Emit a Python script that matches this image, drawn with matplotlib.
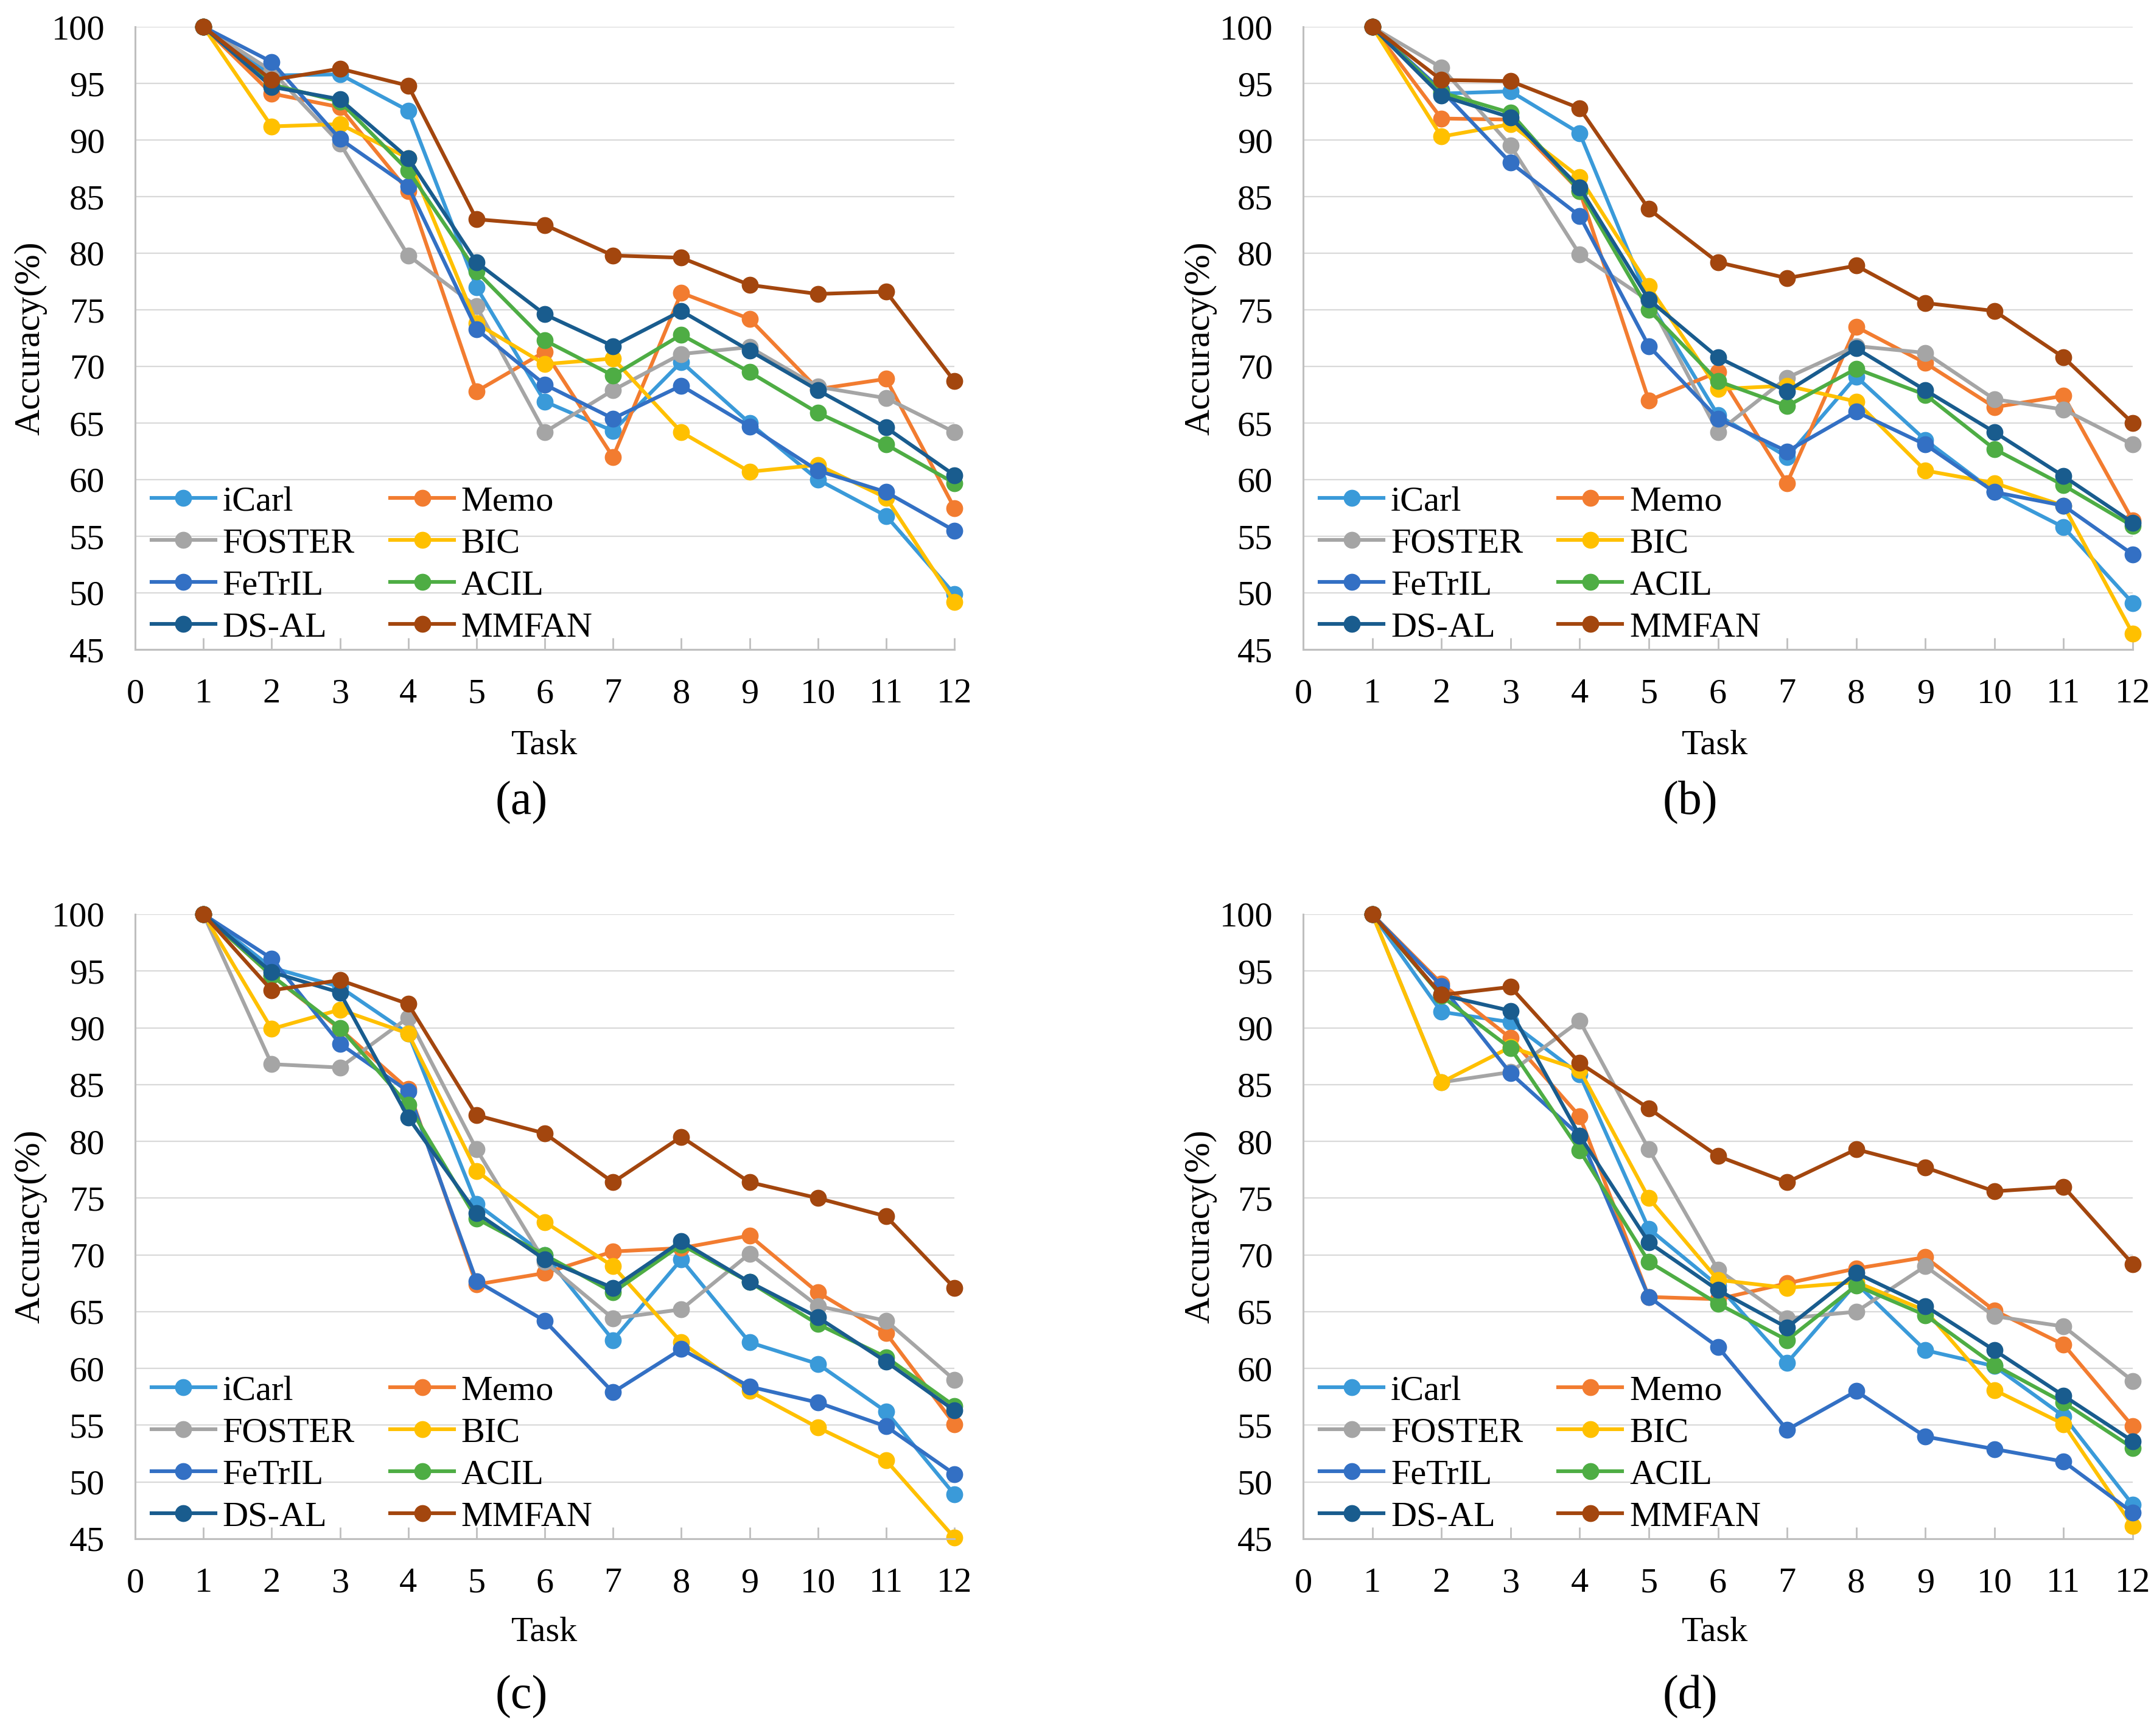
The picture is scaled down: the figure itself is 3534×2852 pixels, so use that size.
import matplotlib.pyplot as plt

# tasks on the x axis
tasks = [1, 2, 3, 4, 5, 6, 7, 8, 9, 10, 11, 12]
methods = ["iCarl", "Memo", "FOSTER", "BIC", "FeTrIL", "ACIL", "DS-AL", "MMFAN"]
colors = ["#3A9AD9", "#F27C30", "#A5A5A5", "#FFC000", "#3370C4", "#4EAD44", "#195C8E", "#A3460E"]

# panel (a)
icarl_a = [100, 95.7, 95.8, 92.6, 77.0, 66.9, 64.3, 70.4, 65.0, 60.0, 56.8, 49.9]
memo_a = [100, 94.1, 92.9, 85.5, 67.8, 71.3, 62.0, 76.5, 74.2, 68.0, 68.9, 57.5]
foster_a = [100, 96.1, 89.7, 79.8, 75.3, 64.2, 67.9, 71.1, 71.7, 68.2, 67.2, 64.2]
bic_a = [100, 91.2, 91.4, 88.4, 73.8, 70.2, 70.7, 64.2, 60.7, 61.3, 58.4, 49.2]
fetril_a = [100, 96.9, 90.1, 85.9, 73.3, 68.4, 65.4, 68.3, 64.7, 60.8, 58.9, 55.5]
acil_a = [100, 94.9, 93.4, 87.3, 78.4, 72.3, 69.2, 72.8, 69.5, 65.9, 63.1, 59.7]
dsal_a = [100, 94.7, 93.6, 88.4, 79.2, 74.6, 71.8, 74.9, 71.4, 67.9, 64.6, 60.4]
mmfan_a = [100, 95.3, 96.3, 94.8, 83.0, 82.5, 79.8, 79.6, 77.2, 76.4, 76.6, 68.7]

# panel (b)
icarl_b = [100, 94.1, 94.3, 90.6, 75.8, 65.7, 62.0, 69.1, 63.5, 58.9, 55.8, 49.1]
memo_b = [100, 91.9, 91.8, 85.5, 67.0, 69.5, 59.7, 73.5, 70.3, 66.4, 67.4, 56.4]
foster_b = [100, 96.4, 89.5, 79.9, 75.8, 64.2, 69.0, 71.8, 71.2, 67.1, 66.2, 63.1]
bic_b = [100, 90.3, 91.4, 86.7, 77.1, 68.0, 68.3, 66.9, 60.8, 59.7, 57.7, 46.4]
fetril_b = [100, 94.4, 88.0, 83.3, 71.8, 65.4, 62.5, 66.0, 63.1, 58.9, 57.7, 53.4]
acil_b = [100, 94.2, 92.4, 85.5, 75.0, 68.7, 66.5, 69.8, 67.5, 62.7, 59.5, 55.9]
dsal_b = [100, 93.9, 92.0, 85.8, 75.9, 70.8, 67.8, 71.6, 67.9, 64.2, 60.3, 56.2]
mmfan_b = [100, 95.3, 95.2, 92.8, 83.9, 79.2, 77.8, 78.9, 75.6, 74.9, 70.8, 65.0]

# panel (c)
icarl_c = [100, 95.3, 93.6, 89.5, 74.5, 70.0, 62.5, 69.6, 62.3, 60.4, 56.2, 48.9]
memo_c = [100, 94.6, 89.9, 84.6, 67.4, 68.4, 70.3, 70.6, 71.7, 66.7, 63.1, 55.1]
foster_c = [100, 86.8, 86.5, 90.9, 79.3, 69.4, 64.4, 65.2, 70.1, 65.5, 64.2, 59.0]
bic_c = [100, 89.9, 91.6, 89.5, 77.4, 72.9, 69.0, 62.3, 58.0, 54.8, 51.9, 45.1]
fetril_c = [100, 96.1, 88.6, 84.4, 67.7, 64.2, 57.9, 61.7, 58.4, 57.0, 54.9, 50.7]
acil_c = [100, 94.6, 90.0, 83.2, 73.2, 70.0, 66.7, 70.9, 67.6, 63.9, 61.0, 56.7]
dsal_c = [100, 94.9, 93.1, 82.1, 73.7, 69.6, 67.1, 71.2, 67.6, 64.5, 60.6, 56.3]
mmfan_c = [100, 93.3, 94.2, 92.1, 82.3, 80.7, 76.4, 80.4, 76.4, 75.0, 73.4, 67.1]

# panel (d)
icarl_d = [100, 91.4, 90.5, 85.9, 72.3, 67.3, 60.5, 67.5, 61.6, 60.2, 55.8, 48.0]
memo_d = [100, 93.9, 89.1, 82.2, 66.3, 66.1, 67.5, 68.8, 69.8, 65.1, 62.1, 54.9]
foster_d = [100, 85.2, 86.1, 90.6, 79.3, 68.7, 64.4, 65.0, 69.0, 64.6, 63.7, 58.9]
bic_d = [100, 85.2, 88.3, 86.3, 75.0, 67.8, 67.1, 67.6, 65.1, 58.1, 55.1, 46.1]
fetril_d = [100, 93.7, 86.0, 80.5, 66.3, 61.9, 54.6, 58.0, 54.0, 52.9, 51.8, 47.3]
acil_d = [100, 92.8, 88.2, 79.2, 69.4, 65.7, 62.5, 67.3, 64.7, 60.3, 57.0, 53.0]
dsal_d = [100, 92.9, 91.5, 80.5, 71.1, 66.9, 63.6, 68.4, 65.5, 61.6, 57.6, 53.6]
mmfan_d = [100, 92.9, 93.6, 86.9, 82.9, 78.7, 76.4, 79.3, 77.7, 75.6, 76.0, 69.2]

panels = {
    "(a)": [icarl_a, memo_a, foster_a, bic_a, fetril_a, acil_a, dsal_a, mmfan_a],
    "(b)": [icarl_b, memo_b, foster_b, bic_b, fetril_b, acil_b, dsal_b, mmfan_b],
    "(c)": [icarl_c, memo_c, foster_c, bic_c, fetril_c, acil_c, dsal_c, mmfan_c],
    "(d)": [icarl_d, memo_d, foster_d, bic_d, fetril_d, acil_d, dsal_d, mmfan_d],
}

plt.rcParams['font.family'] = ['Liberation Serif', 'DejaVu Serif']
W, H = 3534, 2852
fig = plt.figure(figsize=(W / 100, H / 100), dpi=100)

# axes boxes in pixels: left, right, top, bottom
boxes = {
    "(a)": (222, 1568, 44, 1067),
    "(b)": (2141, 3504, 44, 1067),
    "(c)": (222, 1568, 1502, 2528),
    "(d)": (2141, 3504, 1502, 2528),
}
# label positions in pixels: ylabel x, task x, task y, letter x, letter y
label_pos = {
    "(a)": (50, 895, 1224, 857, 1319),
    "(b)": (1972, 2818, 1224, 2777, 1319),
    "(c)": (50, 895, 2682, 857, 2788),
    "(d)": (1972, 2818, 2682, 2777, 2788),
}

fs = 42
for name, series in panels.items():
    l, r, t, b = boxes[name]
    ax = fig.add_axes([l / W, 1 - b / H, (r - l) / W, (b - t) / H])
    lines = []
    for m, vals, c in zip(methods, series, colors):
        ln, = ax.plot(tasks, vals, color=c, linewidth=4.4, marker='o', markersize=19,
                      label=m, clip_on=False)
        lines.append(ln)
    ax.set_xlim(0, 12)
    ax.set_ylim(45, 100)
    ax.set_xticks(range(0, 13))
    ax.set_yticks(range(45, 101, 5))
    ax.yaxis.grid(True, color="#D9D9D9", linewidth=1.6)
    ax.set_axisbelow(True)
    for s in ["top", "right"]:
        ax.spines[s].set_visible(False)
    for s in ["left", "bottom"]:
        ax.spines[s].set_color("#BFBFBF")
        ax.spines[s].set_linewidth(2.2)
    ax.tick_params(axis='x', direction='in', length=14, width=2, color="#BFBFBF",
                   labelsize=fs, pad=34)
    ax.tick_params(axis='y', length=0, labelsize=fs, pad=36)

    # legend is filled row by row in the reference
    order = [0, 2, 4, 6, 1, 3, 5, 7]
    ax.legend([lines[i] for i in order], [methods[i] for i in order], ncol=2,
              loc='lower left', bbox_to_anchor=(0.02, 0.009), frameon=False,
              fontsize=fs, borderpad=0, borderaxespad=0, handlelength=1.8,
              handletextpad=0.2, labelspacing=0.28, columnspacing=1.0)

    yx, tx, ty, lx, ly = label_pos[name]
    fig.text(yx / W, 1 - (t + b) / 2 / H, "Accuracy(%)", rotation=90,
             ha='center', va='center', fontsize=43)
    fig.text(tx / W, 1 - ty / H, "Task", ha='center', va='center', fontsize=fs)
    fig.text(lx / W, 1 - ly / H, name, ha='center', va='center', fontsize=56)

plt.savefig("out.png", dpi=100)
